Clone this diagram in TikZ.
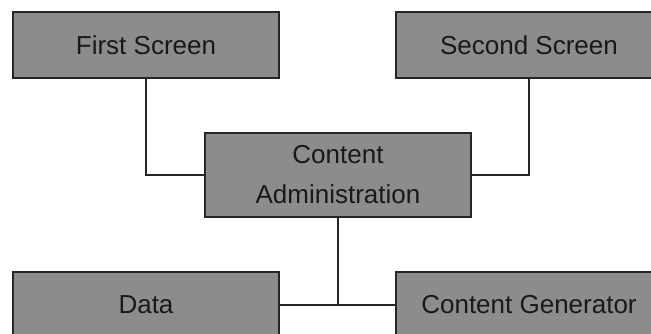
\documentclass[tikz,border=0pt]{standalone}
\usepackage{fontspec}
\setmainfont{Liberation Sans}
\begin{document}
\begin{tikzpicture}[x=0.75pt,y=-0.75pt,
  box/.style={draw=black!85,line width=1.3pt,fill=black!45,minimum width=199.5pt,minimum height=49.5pt,inner sep=0pt,align=center,font=\fontsize{19.5}{30}\selectfont,text=black!90},
  link/.style={draw=black!85,line width=1pt}]
\useasboundingbox (0,0) rectangle (651,334);
\clip (0,0) rectangle (651,334);
\node[box] (fs) at (146,45) {First Screen};
\node[box] (ss) at (529,45) {Second Screen};
\node[box,minimum height=63pt] (ca) at (338,175) {Content\\Administration};
\node[box] (data) at (146,305) {Data};
\node[box] (cg) at (529,305) {Content Generator};
\draw[link] (fs.south) |- (ca.west);
\draw[link] (ss.south) |- (ca.east);
\draw[link] (data.east) -- (cg.west);
\draw[link] (ca.south) -- (ca.south |- data.east);
\end{tikzpicture}
\end{document}
